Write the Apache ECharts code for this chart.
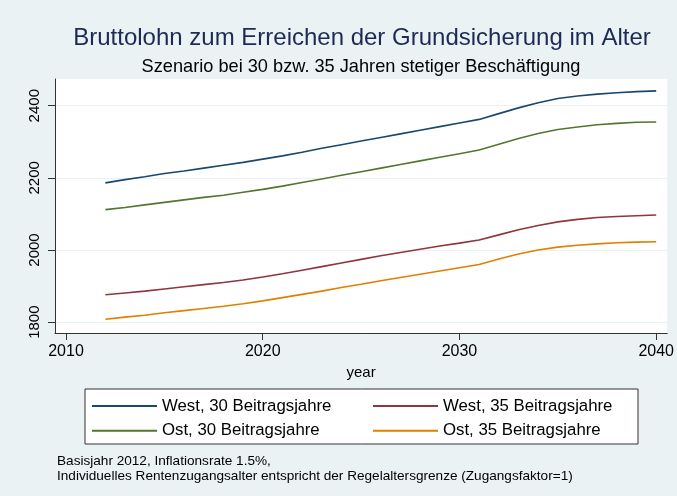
<!DOCTYPE html>
<html>
<head>
<meta charset="utf-8">
<script src="https://cdn.jsdelivr.net/npm/echarts@6/dist/echarts.min.js"></script>
<style>
  html, body { margin: 0; padding: 0; background: #eaf2f3; }
  #chart { width: 677px; height: 496px; }
</style>
</head>
<body>
<div id="chart"></div>
<script>
// Jahre und Werte
const years = [2012, 2013, 2014, 2015, 2016, 2017, 2018, 2019, 2020, 2021,
  2022, 2023, 2024, 2025, 2026, 2027, 2028, 2029, 2030, 2031,
  2032, 2033, 2034, 2035, 2036, 2037, 2038, 2039, 2040]
const west30 = [2186, 2195, 2203, 2212, 2219, 2227, 2235, 2243, 2252, 2261,
  2271, 2282, 2292, 2302, 2312, 2322, 2332, 2342, 2352, 2362,
  2378, 2394, 2408, 2420, 2427, 2432, 2436, 2439, 2441]
const west35 = [1876, 1881, 1886, 1892, 1898, 1904, 1910, 1917, 1925, 1934,
  1944, 1954, 1964, 1974, 1984, 1993, 2002, 2011, 2019, 2028,
  2042, 2056, 2068, 2078, 2085, 2090, 2093, 2095, 2097]
const ost30 = [2112, 2118, 2125, 2132, 2139, 2146, 2152, 2160, 2168, 2177,
  2187, 2197, 2207, 2217, 2227, 2237, 2247, 2257, 2267, 2277,
  2293, 2309, 2323, 2334, 2341, 2347, 2351, 2354, 2355]
const ost35 = [1808, 1814, 1819, 1826, 1832, 1838, 1844, 1851, 1859, 1868,
  1877, 1886, 1896, 1905, 1915, 1924, 1933, 1942, 1951, 1960,
  1975, 1989, 2000, 2008, 2013, 2017, 2020, 2022, 2023]

const xTicks = [2010, 2020, 2030, 2040]
const yTicks = [1800, 2000, 2200, 2400]

const names = ['West, 30 Beitragsjahre', 'West, 35 Beitragsjahre',
  'Ost, 30 Beitragsjahre', 'Ost, 35 Beitragsjahre']
const colors = ['#1a476f', '#90353b', '#55752f', '#e37e00']

const font = 'Liberation Sans, Arial, sans-serif'
const chart = echarts.init(document.getElementById('chart'))

function mkSeries(name, vals, color) {
  return {
    name: name,
    type: 'line',
    data: years.map((y, i) => [y, vals[i]]),
    symbol: 'none',
    lineStyle: { width: 1.6, color: color },
    itemStyle: { color: color },
    z: 3
  }
}

const legendBase = {
  orient: 'vertical',
  top: 396,
  padding: 0,
  itemWidth: 65,
  itemHeight: 2,
  itemGap: 4.7,
  icon: 'rect',
  textStyle: { fontSize: 16.8, lineHeight: 20, color: '#000' }
}

chart.setOption({
  backgroundColor: '#eaf2f3',
  textStyle: { fontFamily: font },
  animation: false,
  grid: {
    left: 55, right: 9, top: 79, bottom: 163,
    show: true, backgroundColor: '#ffffff', borderWidth: 0
  },
  xAxis: {
    type: 'value',
    min: 2009.44, max: 2040.56,
    name: 'year',
    nameLocation: 'middle',
    nameGap: 30,
    nameTextStyle: { fontSize: 15, color: '#000' },
    axisLine: { show: true, lineStyle: { color: '#333', width: 1 } },
    axisTick: { show: true, length: 7, customValues: xTicks, lineStyle: { color: '#333' } },
    axisLabel: {
      customValues: xTicks, fontSize: 16, color: '#000', margin: 11,
      formatter: v => String(v)
    },
    splitLine: { show: false }
  },
  yAxis: {
    type: 'value',
    min: 1770, max: 2474,
    axisLine: { show: true, lineStyle: { color: '#333', width: 1 } },
    axisTick: { show: true, length: 7, customValues: yTicks, lineStyle: { color: '#333' } },
    axisLabel: {
      customValues: yTicks, fontSize: 15, color: '#000', rotate: 90, margin: 13,
      formatter: v => String(v)
    },
    splitLine: { show: true, lineStyle: { color: '#eaf2f3', width: 1.2 } }
  },
  legend: [
    Object.assign({}, legendBase, { left: 92, data: [names[0], names[2]] }),
    Object.assign({}, legendBase, { left: 373, data: [names[1], names[3]] })
  ],
  series: [
    mkSeries(names[0], west30, colors[0]),
    mkSeries(names[1], west35, colors[1]),
    mkSeries(names[2], ost30, colors[2]),
    mkSeries(names[3], ost35, colors[3])
  ],
  graphic: [
    {
      type: 'rect', z: -1, silent: true,
      shape: { x: 85, y: 389, width: 553, height: 55 },
      style: { fill: '#ffffff', stroke: '#333', lineWidth: 1 }
    },
    {
      type: 'text', x: 362, y: 38,
      style: {
        text: 'Bruttolohn zum Erreichen der Grundsicherung im Alter',
        fontSize: 24, fill: '#1c2a55', align: 'center', verticalAlign: 'middle',
        fontFamily: font
      }
    },
    {
      type: 'text', x: 361, y: 67,
      style: {
        text: 'Szenario bei 30 bzw. 35 Jahren stetiger Beschäftigung',
        fontSize: 18.2, fill: '#000', align: 'center', verticalAlign: 'middle',
        fontFamily: font
      }
    },
    {
      type: 'text', x: 57, y: 461,
      style: {
        text: 'Basisjahr 2012, Inflationsrate 1.5%,',
        fontSize: 13.6, fill: '#000', align: 'left', verticalAlign: 'middle',
        fontFamily: font
      }
    },
    {
      type: 'text', x: 57, y: 476,
      style: {
        text: 'Individuelles Rentenzugangsalter entspricht der Regelaltersgrenze (Zugangsfaktor=1)',
        fontSize: 13.6, fill: '#000', align: 'left', verticalAlign: 'middle',
        fontFamily: font
      }
    }
  ]
})
</script>
</body>
</html>
